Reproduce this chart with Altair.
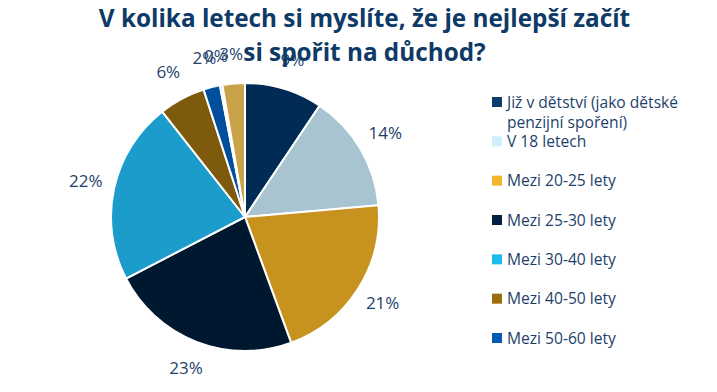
import altair as alt
import pandas as pd

categories = [
    "Již v dětství (jako dětské penzijní spoření)",
    "V 18 letech",
    "Mezi 20-25 lety",
    "Mezi 25-30 lety",
    "Mezi 30-40 lety",
    "Mezi 40-50 lety",
    "Mezi 50-60 lety",
    "Po 60 letech",
    "Nevím",
]
values = [9.4, 14.2, 20.8, 23.0, 22.0, 5.6, 2.0, 0.3, 2.7]
pie_colors = ["#002B55", "#A8C4D0", "#C8921F", "#00182F", "#1C9CCB",
              "#7E5B0C", "#004F9C", "#C6DDE6", "#C9A349"]
legend_labels = [
    "Již v dětství (jako dětské\npenzijní spoření)",
    "V 18 letech",
    "Mezi 20-25 lety",
    "Mezi 25-30 lety",
    "Mezi 30-40 lety",
    "Mezi 40-50 lety",
    "Mezi 50-60 lety",
]
legend_colors = ["#0A3D6E", "#CCEFFA", "#F2B52B", "#02203F", "#1FBAEE",
                 "#9C6D0E", "#0059B3"]
title_lines = ["V kolika letech si myslíte, že je nejlepší začít", "si spořit na důchod?"]

n_leg = len(legend_labels)
df = pd.DataFrame({
    "kategorie": categories,
    "podil": values,
    "poradi": list(range(len(categories))),
    "popisek": [f"{round(v)}%" for v in values],
})
leg = pd.DataFrame({
    "kategorie": categories[:n_leg],
    "text": legend_labels,
})

PLOT_TOP = 100
CX, CY = 237, 218 - PLOT_TOP
TXT = "#1D3F6B"

base = alt.Chart(df)
theta = alt.Theta("podil:Q", stack=True)
order = alt.Order("poradi:Q")

arcs = base.mark_arc(radius=134, stroke="white", strokeWidth=2).encode(
    theta=theta,
    order=order,
    fill=alt.Fill("kategorie:N", scale=alt.Scale(domain=categories, range=pie_colors), legend=None),
    x=alt.value(CX),
    y=alt.value(CY),
)

labels = base.mark_text(radius=163, font="Open Sans", fontSize=17, color=TXT).encode(
    theta=theta,
    order=order,
    text="popisek:N",
    x=alt.value(CX),
    y=alt.value(CY),
)

ly = alt.Y("kategorie:N", sort=categories[:n_leg], axis=None,
           scale=alt.Scale(type="point", range=[103 - PLOT_TOP, 339 - PLOT_TOP], padding=0))

leg_sq = alt.Chart(leg).mark_square(size=100, opacity=1, filled=True).encode(
    x=alt.value(489),
    y=ly,
    color=alt.Color("kategorie:N", scale=alt.Scale(domain=categories[:n_leg], range=legend_colors), legend=None),
)

leg_txt = alt.Chart(leg).mark_text(
    align="left", baseline="alphabetic", dy=5.5, font="Open Sans", fontSize=15.6,
    color=TXT, lineBreak="\n", lineHeight=20,
).encode(
    x=alt.value(499),
    y=ly,
    text="text:N",
)

chart = alt.layer(arcs, labels, leg_sq, leg_txt).properties(
    width=701,
    height=270,
    padding=0,
    title=alt.TitleParams(
        title_lines, font="Open Sans", fontSize=24.3, fontWeight="bold",
        color="#0D3A66", lineHeight=34, anchor="middle", dx=6, offset=-21,
    ),
).configure_view(strokeWidth=0)

chart.save("out.html", embed_options={"renderer": "svg", "actions": False})
